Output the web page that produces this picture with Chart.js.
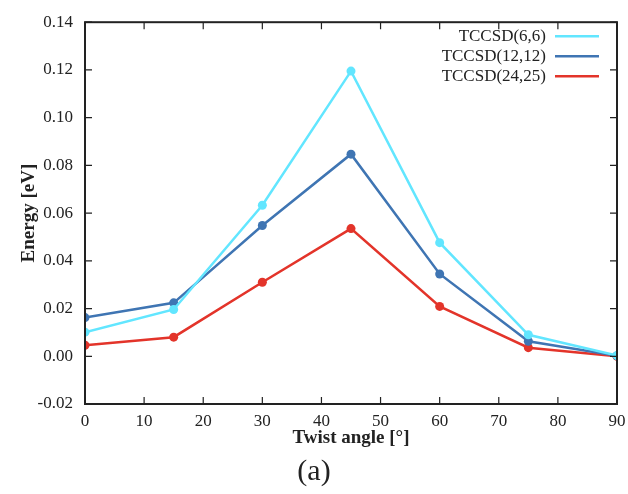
<!DOCTYPE html>
<html>
<head>
<meta charset="utf-8">
<script src="https://cdn.jsdelivr.net/npm/chart.js@4"></script>
<style>
  html, body { margin: 0; padding: 0; background: #fff; }
  #wrap { width: 628px; height: 494px; }
</style>
</head>
<body>
<div id="wrap"><canvas id="twistChart" width="628" height="494"></canvas></div>
<script>
const angles = [0, 15, 30, 45, 60, 75, 90];
const seriesNames = ['TCCSD(6,6)', 'TCCSD(12,12)', 'TCCSD(24,25)'];
const tccsd66 = [0.0101, 0.0196, 0.0633, 0.1195, 0.0476, 0.0090, 0.0003];
const tccsd1212 = [0.0162, 0.0224, 0.0548, 0.0847, 0.0345, 0.0063, 0.0002];
const tccsd2425 = [0.0046, 0.0080, 0.0310, 0.0535, 0.0209, 0.0036, 0.0000];
const seriesColors = ['#62e6ff', '#3f75b3', '#e3342a'];

const serif = "'Liberation Serif', 'DejaVu Serif', serif";

function toPoints(ys) {
    return angles.map((a, i) => ({ x: a, y: ys[i] }));
}

// frame with inward ticks on all four sides, plus legend inside top right
const framePlugin = {
    id: 'frame',
    afterDraw(chart) {
        const ctx = chart.ctx;
        const a = chart.chartArea;
        const xs = chart.scales.x, ys = chart.scales.y;
        ctx.save();
        ctx.strokeStyle = '#222';
        ctx.lineWidth = 2;
        ctx.strokeRect(a.left, a.top, a.right - a.left, a.bottom - a.top);
        ctx.lineWidth = 1.2;
        const t = 7;
        xs.ticks.forEach(tk => {
            const px = xs.getPixelForValue(tk.value);
            ctx.beginPath();
            ctx.moveTo(px, a.bottom); ctx.lineTo(px, a.bottom - t);
            ctx.moveTo(px, a.top); ctx.lineTo(px, a.top + t);
            ctx.stroke();
        });
        ys.ticks.forEach(tk => {
            const py = ys.getPixelForValue(tk.value);
            ctx.beginPath();
            ctx.moveTo(a.left, py); ctx.lineTo(a.left + t, py);
            ctx.moveTo(a.right, py); ctx.lineTo(a.right - t, py);
            ctx.stroke();
        });
        // legend
        ctx.font = '17px ' + serif;
        ctx.textAlign = 'right';
        ctx.textBaseline = 'middle';
        chart.data.datasets.forEach((ds, i) => {
            const y = a.top + 14 + i * 20;
            ctx.fillStyle = '#222';
            ctx.fillText(ds.label, a.right - 71, y);
            ctx.strokeStyle = ds.borderColor;
            ctx.lineWidth = 2.5;
            ctx.beginPath();
            ctx.moveTo(a.right - 62, y); ctx.lineTo(a.right - 18, y);
            ctx.stroke();
        });
        ctx.restore();
    }
};

new Chart(document.getElementById('twistChart'), {
    type: 'line',
    data: {
        datasets: [tccsd66, tccsd1212, tccsd2425].map((vals, i) => ({
            label: seriesNames[i],
            data: toPoints(vals),
            borderColor: seriesColors[i],
            backgroundColor: seriesColors[i],
            pointBackgroundColor: seriesColors[i],
            pointBorderWidth: 0,
            pointRadius: 4.5,
            borderWidth: 2.5,
            tension: 0
        }))
    },
    options: {
        responsive: false,
        animation: false,
        layout: { padding: { top: 12, right: 0, left: 0, bottom: 4 } },
        plugins: {
            legend: { display: false },
            tooltip: { enabled: false },
            title: {
                display: true,
                position: 'bottom',
                text: '(a)',
                color: '#222',
                font: { family: serif, size: 30, weight: 'normal' },
                padding: { top: 5, bottom: 0 }
            }
        },
        scales: {
            x: {
                type: 'linear',
                min: 0, max: 90,
                grid: { display: false, drawTicks: false },
                border: { display: false },
                ticks: { stepSize: 10, padding: 7, color: '#222', font: { family: serif, size: 17 } },
                title: { display: true, text: 'Twist angle [°]', color: '#222', padding: { top: 0, bottom: 0 },
                         font: { family: serif, size: 19, weight: 'bold' } },
                afterFit(scale) { scale.height = 45; scale.paddingRight = 11; }
            },
            y: {
                min: -0.02, max: 0.14,
                grid: { display: false, drawTicks: false },
                border: { display: false },
                ticks: { stepSize: 0.02, padding: 12, color: '#222', font: { family: serif, size: 17 },
                         callback: v => v.toFixed(2) },
                title: { display: true, text: 'Energy [eV]', color: '#222', padding: { top: 18, bottom: 0 },
                         font: { family: serif, size: 19, weight: 'bold' } },
                afterFit(scale) { scale.width = 85; }
            }
        }
    },
    plugins: [framePlugin]
});
</script>
</body>
</html>
